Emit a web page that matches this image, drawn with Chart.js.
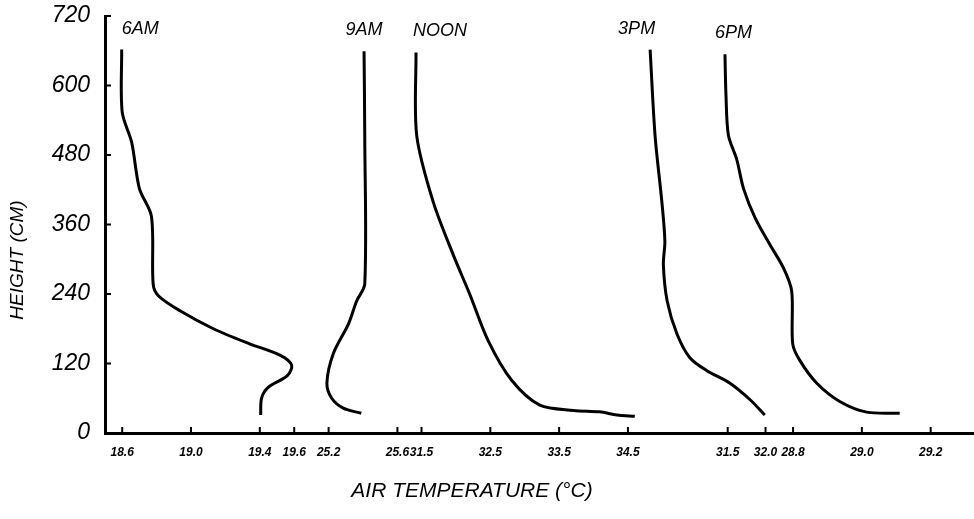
<!DOCTYPE html>
<html>
<head>
<meta charset="utf-8">
<script src="https://cdn.jsdelivr.net/npm/chart.js@4/dist/chart.umd.min.js"></script>
<style>
  html, body { margin: 0; padding: 0; background: #fff; }
  #wrap { width: 974px; height: 519px; }
</style>
</head>
<body>
<div id="wrap"><canvas id="c" width="974" height="519"></canvas></div>
<script>
// Vertical air-temperature profiles at five times of day.
const seriesNames = ['6AM', '9AM', 'NOON', '3PM', '6PM'];

// Height above ground (cm) and temperature (°C) along each profile, top to bottom.
const heights6am = [662, 554, 502, 422, 374, 257, 237, 211, 180, 154, 134, 117, 99, 79, 60, 31];
const temps6am   = [18.597, 18.60, 18.655, 18.70, 18.77, 18.78, 18.81, 18.936, 19.13, 19.34, 19.52, 19.585, 19.56, 19.45, 19.41, 19.405];

const heights9am = [659, 514, 257, 228, 188, 137, 86, 60, 43, 34];
const temps9am   = [25.406, 25.41, 25.41, 25.363, 25.315, 25.227, 25.19, 25.218, 25.285, 25.39];

const heightsNoon = [657, 514, 399, 308, 240, 159, 91, 48, 39, 36.5, 31, 29];
const tempsNoon   = [31.42, 31.43, 31.67, 31.96, 32.20, 32.47, 32.81, 33.22, 33.71, 34.09, 34.34, 34.60];

const heights3pm = [662, 514, 399, 331, 291, 228, 171, 130, 108, 86, 57, 31];
const temps3pm   = [30.475, 30.54, 30.63, 30.67, 30.65, 30.70, 30.83, 31.00, 31.22, 31.53, 31.80, 31.99];

const heights6pm = [654, 583, 514, 473, 422, 371, 325, 285, 245, 154, 125, 86, 54, 36, 34];
const temps6pm   = [28.602, 28.605, 28.612, 28.636, 28.656, 28.69, 28.733, 28.772, 28.796, 28.799, 28.82, 28.869, 28.937, 29.014, 29.11];

// Tick labels: height axis and the temperature marks of each profile's own segment.
const heightTicks = [0, 120, 240, 360, 480, 600, 720];
const tempTicks6am  = [18.6, 19.0, 19.4, 19.6];
const tempTicks9am  = [25.2, 25.6];
const tempTicksNoon = [31.5, 32.5, 33.5, 34.5];
const tempTicks3pm  = [31.5, 32.0];
const tempTicks6pm  = [28.8, 29.0, 29.2];

// The temperature axis is broken into segments: where each segment's first mark sits
// on the shared axis, and how many axis units one degree spans within it.
const segStart = [0.5, 6.5, 9.2, 18.1, 20.0];
const segScale = [5, 5, 2, 2.2, 10];
const AXIS_MAX = 25.23;

const allHeights = [heights6am, heights9am, heightsNoon, heights3pm, heights6pm];
const allTemps   = [temps6am, temps9am, tempsNoon, temps3pm, temps6pm];
const allTicks   = [tempTicks6am, tempTicks9am, tempTicksNoon, tempTicks3pm, tempTicks6pm];

function toAxis(seg, t) {
  return segStart[seg] + (t - allTicks[seg][0]) * segScale[seg];
}

// Shared-axis positions of every temperature mark, with their labels.
const xTickPos = [];
const xTickText = {};
allTicks.forEach((ticks, i) => {
  ticks.forEach(t => {
    const p = +toAxis(i, t).toFixed(4);
    xTickPos.push(p);
    xTickText[p] = t.toFixed(1);
  });
});

const datasets = seriesNames.map((name, i) => ({
  label: name,
  data: allTemps[i].map((t, k) => ({ x: toAxis(i, t), y: allHeights[i][k] })),
  borderColor: '#000',
  borderWidth: 3,
  pointRadius: 0,
  tension: 0.3,
  fill: false
}));

// Placement of the time label above each profile's upper end.
const nameAlign = ['left', 'center', 'left', 'right', 'left'];
const nameDx = [0, 0, -3, 5, -10];

const HAND = "'Liberation Sans', 'DejaVu Sans', sans-serif";

const decorations = {
  id: 'decorations',
  afterDraw(chart) {
    const ctx = chart.ctx;
    const xs = chart.scales.x, ys = chart.scales.y;
    const ca = chart.chartArea;
    ctx.save();
    ctx.strokeStyle = '#000';
    ctx.lineWidth = 2;
    // inward tick marks
    xs.ticks.forEach(tk => {
      const px = xs.getPixelForValue(tk.value);
      ctx.beginPath(); ctx.moveTo(px, ca.bottom); ctx.lineTo(px, ca.bottom - 6); ctx.stroke();
    });
    ys.ticks.forEach(tk => {
      const py = ys.getPixelForValue(tk.value);
      ctx.beginPath(); ctx.moveTo(ca.left, py); ctx.lineTo(ca.left + 6, py); ctx.stroke();
    });
    // time labels
    ctx.fillStyle = '#000';
    ctx.font = 'italic 18px ' + HAND;
    ctx.textBaseline = 'middle';
    chart.data.datasets.forEach((ds, i) => {
      const top = ds.data[0];
      const px = xs.getPixelForValue(top.x) + nameDx[i];
      const py = ys.getPixelForValue(top.y) - 21;
      ctx.textAlign = nameAlign[i];
      ctx.fillText(ds.label, px, py);
    });
    // axis titles
    ctx.font = 'italic 21px ' + HAND;
    ctx.textAlign = 'center';
    ctx.fillText('AIR TEMPERATURE (°C)', 472, 491);
    ctx.translate(18, 260);
    ctx.rotate(-Math.PI / 2);
    ctx.font = 'italic 19px ' + HAND;
    ctx.fillText('HEIGHT (CM)', 0, 0);
    ctx.restore();
  }
};

new Chart(document.getElementById('c'), {
  type: 'line',
  data: { datasets },
  options: {
    responsive: false,
    animation: false,
    layout: { padding: { top: 16, right: 1, left: 0, bottom: 0 } },
    plugins: { legend: { display: false }, tooltip: { enabled: false } },
    scales: {
      x: {
        type: 'linear',
        min: 0,
        max: AXIS_MAX,
        afterFit(scale) { scale.height = 86; scale.paddingLeft = 0; scale.paddingRight = 0; },
        afterBuildTicks(scale) { scale.ticks = xTickPos.map(v => ({ value: v })); },
        grid: { display: false, drawTicks: false },
        border: { display: true, color: '#000', width: 3 },
        ticks: {
          autoSkip: false,
          maxRotation: 0,
          padding: 12,
          color: '#000',
          font: { family: HAND, size: 12, style: 'italic', weight: 'bold' },
          callback: v => xTickText[+(+v).toFixed(4)] || ''
        }
      },
      y: {
        type: 'linear',
        min: 0,
        max: 720,
        afterFit(scale) { scale.width = 105; scale.paddingTop = 0; scale.paddingBottom = 0; },
        afterBuildTicks(scale) { scale.ticks = heightTicks.map(v => ({ value: v })); },
        grid: { display: false, drawTicks: false },
        border: { display: true, color: '#000', width: 3 },
        ticks: {
          padding: 15,
          color: '#000',
          font: { family: HAND, size: 23, style: 'italic' },
          callback: v => String(v)
        }
      }
    }
  },
  plugins: [decorations]
});
</script>
</body>
</html>
